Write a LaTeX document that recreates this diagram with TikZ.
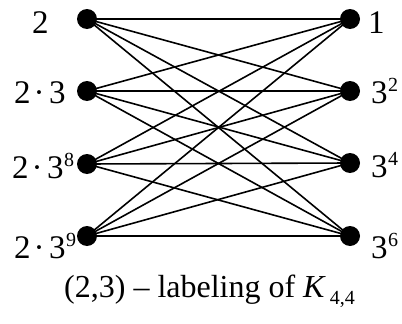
\documentclass[tikz,border=0pt]{standalone}
\usepackage{fontspec}
\setmainfont{Liberation Serif}
\newcommand\mysupr[1]{\kern0.5pt\raisebox{12pt}{\fontsize{20}{20}\selectfont #1}}
\newcommand\mydot{\kern3pt·\kern4.5pt}
\begin{document}
\begin{tikzpicture}[x=1pt,y=-1pt,
  vtx/.style={circle,fill=black,inner sep=0pt,minimum size=20pt},
  lab/.style={font=\fontsize{33}{33}\selectfont,inner sep=0pt,anchor=base west},
  edgeline/.style={line width=1.6pt}]
\useasboundingbox (0,0) rectangle (402,324);
% left vertices
\node[vtx] (l1) at (87,19) {};
\node[vtx] (l2) at (87,91) {};
\node[vtx] (l3) at (87,164) {};
\node[vtx] (l4) at (87,236) {};
% right vertices
\node[vtx] (r1) at (350,19) {};
\node[vtx] (r2) at (350,91) {};
\node[vtx] (r3) at (350,163) {};
\node[vtx] (r4) at (350,236) {};
% edges
\foreach \i in {1,2,3,4}{
  \foreach \j in {1,2,3,4}{
    \draw[edgeline] (l\i.center) -- (r\j.center);
  }
}
% labels
\node[lab] (tl1) at (32,34) {2};
\node[lab] (tl2) at (14,103) {2\mydot 3};
\node[lab] (tl3) at (12,178) {2\mydot 3\mysupr{8}};
\node[lab] (tl4) at (14,258) {2\mydot 3\mysupr{9}};
\node[lab] (tr1) at (368,34) {1};
\node[lab] (tr2) at (371,103) {3\mysupr{2}};
\node[lab] (tr3) at (371,177) {3\mysupr{4}};
\node[lab] (tr4) at (371,258) {3\mysupr{6}};
% caption
\node[lab,font=\fontsize{32}{32}\selectfont] (cap) at (64,297) {(2,3) – labeling of \textit{K}\kern4pt\raisebox{-7pt}{\fontsize{20}{20}\selectfont 4,4}};
\end{tikzpicture}
\end{document}
